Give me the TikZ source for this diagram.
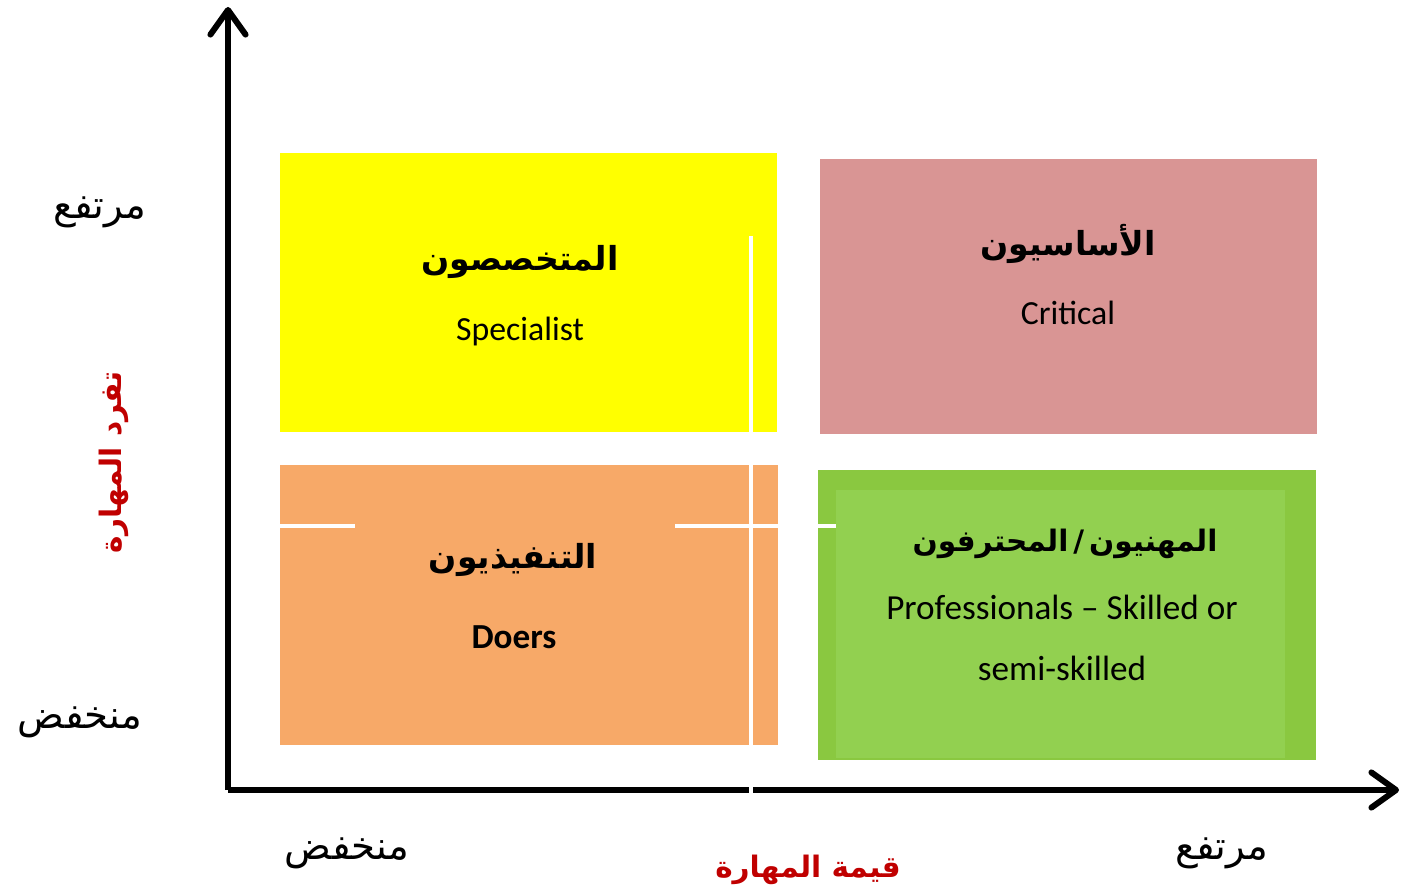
\documentclass[tikz,border=0pt]{standalone}
\usepackage{fontspec}
\setmainfont{Carlito}
\newfontfamily\arabicfont[Script=Arabic]{DejaVu Sans}
\TeXXeTstate=1
\usetikzlibrary{arrows.meta}

\definecolor{quadyellow}{RGB}{255,255,0}
\definecolor{quadpink}{RGB}{217,149,148}
\definecolor{quadorange}{RGB}{247,169,104}
\definecolor{quadgreen}{RGB}{138,200,64}
\definecolor{quadgreenin}{RGB}{146,208,80}
\definecolor{axisred}{RGB}{192,0,0}

\tikzset{
  quad/.style={rectangle, draw=none, inner sep=0pt, outer sep=0pt},
  artitle/.style={font=\arabicfont\bfseries\fontsize{9.4}{11}\selectfont, inner sep=1pt},
  arlabel/.style={font=\arabicfont\fontsize{11}{13}\selectfont, inner sep=1pt},
  arred/.style={font=\arabicfont\bfseries\fontsize{8.4}{10}\selectfont, text=axisred, inner sep=1pt},
  entext/.style={font=\fontsize{9.6}{17.4}\selectfont, align=center, inner sep=1pt},
  axis/.style={line width=1.7pt, -{Straight Barb[length=7pt,width=10pt,line cap=round,round]}},
  seam/.style={white, line width=1pt}
}

\begin{document}
\begin{tikzpicture}[x=0.01cm, y=-0.01cm]
  \useasboundingbox (0,0) rectangle (1401,895);

  % axes
  \coordinate (origin) at (228,790);
  \coordinate (ytip) at (228,7);
  \coordinate (xtip) at (1399,790);
  \draw[axis] (origin) -- (ytip);
  \draw[axis] (origin) -- (xtip);

  % the four quadrants
  \node[quad, fill=quadyellow, minimum width=4.97cm, minimum height=2.79cm] (spec) at (528.5,292.5) {};
  \node[quad, fill=quadpink, minimum width=4.97cm, minimum height=2.75cm] (crit) at (1068.5,296.5) {};
  \node[quad, fill=quadorange, minimum width=4.98cm, minimum height=2.80cm] (doer) at (529,605) {};
  \node[quad, fill=quadgreen, minimum width=4.98cm, minimum height=2.90cm] (prof) at (1067,615) {};
  \node[quad, fill=quadgreenin, minimum width=4.49cm, minimum height=2.68cm] (profin) at (1060.5,624) {};

  % white seams
  \coordinate (vtop) at (751,236);
  \coordinate (vbot) at (751,795);
  \draw[seam] (vtop) -- (vbot);
  \coordinate (h1a) at (280,526);
  \coordinate (h1b) at (355,526);
  \coordinate (h2a) at (675,526);
  \coordinate (h2b) at (836,526);
  \draw[seam] (h1a) -- (h1b);
  \draw[seam] (h2a) -- (h2b);

  % quadrant texts
  \node[artitle] (specar) at (520,262) {\beginR المتخصصون\endR};
  \node[entext] (specen) at (520,332) {Specialist};

  \node[artitle] (critar) at (1068,244) {\beginR الأساسيون\endR};
  \node[entext] (criten) at (1068,313) {Critical};

  \node[artitle] (doerar) at (513,560) {\beginR التنفيذيون\endR};
  \node[entext, font=\bfseries\fontsize{10}{12}\selectfont] (doeren) at (514,637) {Doers};

  \node[artitle, font=\arabicfont\bfseries\fontsize{8.4}{10}\selectfont] (profar) at (1065,544) {\beginR المهنيون\,/\,المحترفون\endR};
  \node[entext, font=\fontsize{10}{17.4}\selectfont] (profen) at (1062,638) {Professionals -- Skilled or\\semi-skilled};

  % axis scale labels
  \node[arlabel] (yhigh) at (100,212) {\beginR مرتفع\endR};
  \node[arlabel] (ylow) at (80,722) {\beginR منخفض\endR};
  \node[arlabel] (xlow) at (347,853) {\beginR منخفض\endR};
  \node[arlabel] (xhigh) at (1222,853) {\beginR مرتفع\endR};

  % axis titles
  \node[arred] (xtitle) at (808,870) {\beginR قيمة المهارة\endR};
  \node[arred, rotate=90] (ytitle) at (114,462) {\beginR تفرد المهارة\endR};
\end{tikzpicture}
\end{document}
